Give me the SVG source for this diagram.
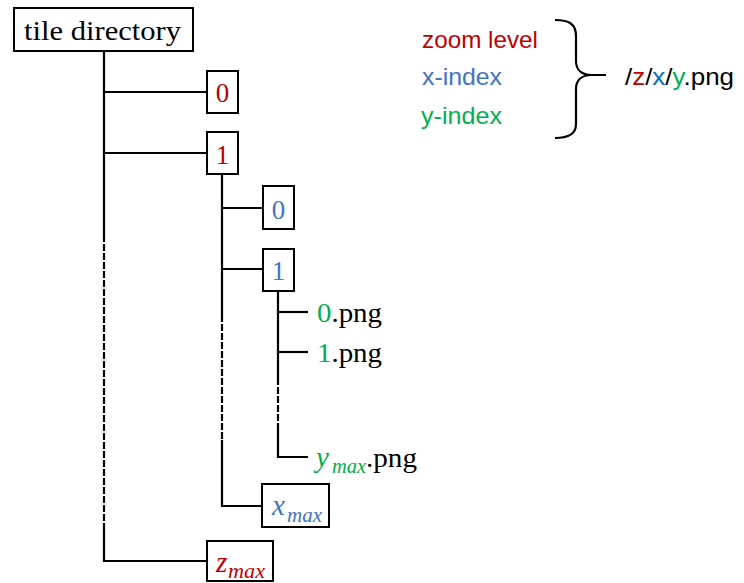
<svg xmlns="http://www.w3.org/2000/svg" width="744" height="583" viewBox="0 0 744 583">
  <style>
    .box { fill: #ffffff; stroke: #000000; stroke-width: 2; }
    .ln { fill: none; stroke: #000000; stroke-width: 2.2; }
    .dash { fill: none; stroke: #000000; stroke-width: 2.2; stroke-dasharray: 7 2; }
    .serif { font-family: "Liberation Serif", "DejaVu Serif", serif; font-size: 27px; fill: #000000; }
    .math { font-family: "Liberation Serif", "DejaVu Serif", serif; font-style: italic; font-size: 29px; }
    .sub { font-family: "Liberation Serif", "DejaVu Serif", serif; font-style: italic; font-size: 21px; }
    .sans { font-family: "Liberation Sans", Arial, sans-serif; font-size: 24px; }
    .red { fill: #C00000; }
    .blue { fill: #4472C4; }
    .blue2 { fill: #0070C0; }
    .green { fill: #00B050; }
  </style>

  <!-- tree connectors -->
  <g id="connectors">
    <!-- root trunk -->
    <path class="ln" d="M104,51 V235"/>
    <path class="dash" d="M104,235 V528"/>
    <path class="ln" d="M104,528 V561 H207"/>
    <path class="ln" d="M104,92 H207"/>
    <path class="ln" d="M104,153 H207"/>
    <!-- zoom level 1 trunk -->
    <path class="ln" d="M222,174 V315"/>
    <path class="dash" d="M222,315 V440"/>
    <path class="ln" d="M222,440 V506 H262"/>
    <path class="ln" d="M222,208 H263"/>
    <path class="ln" d="M222,269 H263"/>
    <!-- x-index 1 trunk -->
    <path class="ln" d="M278,291 V378"/>
    <path class="dash" d="M278,378 V427"/>
    <path class="ln" d="M278,427 V457 H308"/>
    <path class="ln" d="M278,312 H308"/>
    <path class="ln" d="M278,352 H308"/>
    <!-- brace -->
    <path class="ln" d="M555,20 C569,20 576,24 576,36 L576,61 C576,70 582,75 592,75 L606,75 M592,75 C582,75 576,80 576,89 L576,124 C576,134 569,138 555,138"/>
  </g>

  <g id="root">
    <rect class="box" x="14" y="8" width="179" height="43"/>
    <text class="serif" x="24" y="40" textLength="157" lengthAdjust="spacingAndGlyphs">tile directory</text>
  </g>

  <g id="z0">
    <rect class="box" x="207" y="71" width="31" height="42"/>
    <text class="serif red" x="222.5" y="102" text-anchor="middle">0</text>
  </g>

  <g id="z1">
    <rect class="box" x="207" y="132" width="31" height="42"/>
    <text class="serif red" x="222.5" y="164" text-anchor="middle">1</text>
  </g>

  <g id="x0">
    <rect class="box" x="263" y="186" width="31" height="43"/>
    <text class="serif blue" x="278.5" y="219" text-anchor="middle">0</text>
  </g>

  <g id="x1">
    <rect class="box" x="263" y="249" width="31" height="42"/>
    <text class="serif blue" x="278.5" y="280" text-anchor="middle">1</text>
  </g>

  <g id="y0">
    <text class="serif" x="317" y="322" textLength="65" lengthAdjust="spacingAndGlyphs"><tspan class="green">0</tspan>.png</text>
  </g>

  <g id="y1">
    <text class="serif" x="317" y="362" textLength="65" lengthAdjust="spacingAndGlyphs"><tspan class="green">1</tspan>.png</text>
  </g>

  <g id="ymax">
    <text class="math green" x="316" y="467">y</text>
    <text class="sub green" x="332" y="473" textLength="34" lengthAdjust="spacingAndGlyphs">max</text>
    <text class="serif" x="366" y="467" textLength="51" lengthAdjust="spacingAndGlyphs">.png</text>
  </g>

  <g id="xmax">
    <rect class="box" x="262" y="484" width="67" height="43"/>
    <text class="math blue" x="272" y="515">x</text>
    <text class="sub blue" x="287" y="522" textLength="35" lengthAdjust="spacingAndGlyphs">max</text>
  </g>

  <g id="zmax">
    <rect class="box" x="207" y="541" width="66" height="40"/>
    <text class="math red" x="216" y="572">z</text>
    <text class="sub red" x="228" y="578" textLength="37" lengthAdjust="spacingAndGlyphs">max</text>
  </g>

  <!-- legend -->
  <g id="legend">
    <text class="sans red" x="422" y="48" textLength="116" lengthAdjust="spacingAndGlyphs">zoom level</text>
    <text class="sans blue" x="422" y="85" textLength="80" lengthAdjust="spacingAndGlyphs">x-index</text>
    <text class="sans green" x="421" y="124" textLength="81" lengthAdjust="spacingAndGlyphs">y-index</text>
  </g>

  <g id="pattern">
    <text class="sans" x="625" y="85" fill="#000000" textLength="109" lengthAdjust="spacingAndGlyphs">/<tspan class="red">z</tspan>/<tspan class="blue2">x</tspan>/<tspan class="green">y</tspan>.png</text>
  </g>
</svg>
